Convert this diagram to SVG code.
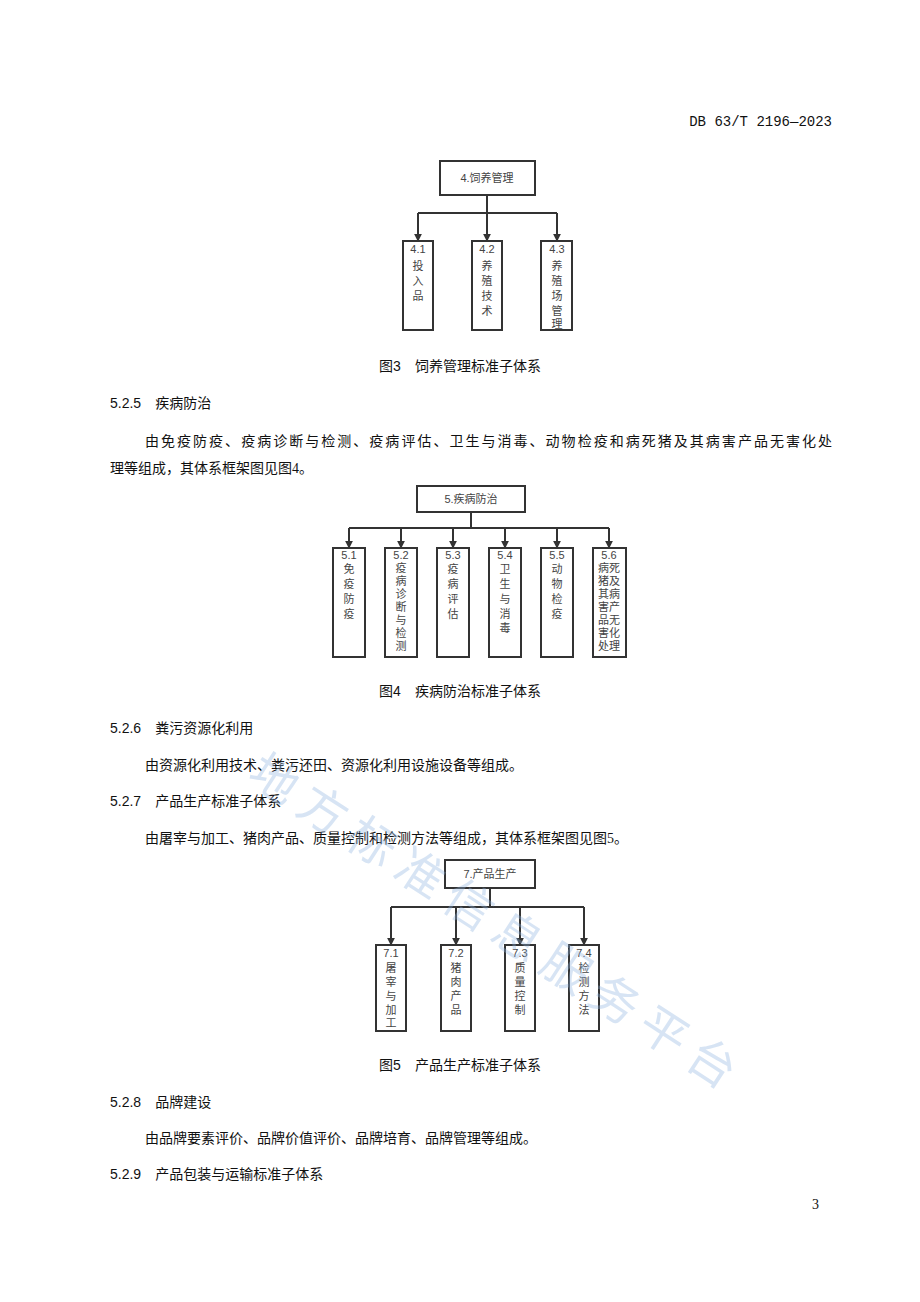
<svg xmlns="http://www.w3.org/2000/svg" width="920" height="1302" viewBox="0 0 920 1302">
<defs>
<marker id="ah" viewBox="0 0 10 10" refX="9" refY="5" markerWidth="4" markerHeight="4" orient="auto"><path d="M0,0L10,5L0,10z" fill="#333"/></marker>
<style>
.t{font-family:"Liberation Serif","Noto Sans CJK SC",serif;font-size:14px;fill:#111}
.h{font-family:"Liberation Sans","Noto Sans CJK SC",sans-serif;font-size:14px;fill:#111}
.m{font-family:"Liberation Mono","Noto Sans CJK SC",monospace;font-size:14px;fill:#111}
.b{fill:#fff;stroke:#333;stroke-width:2}
.n{font-family:"Liberation Sans","Noto Sans CJK SC",sans-serif;font-size:11px;fill:#444;text-anchor:middle}
.c{fill:none;stroke:#333;stroke-width:2}
.c2{fill:none;stroke:#333;stroke-width:2;marker-end:url(#ah)}
.wm{font-family:"Noto Sans CJK SC",sans-serif;font-size:48px;fill:#8fb4e0;opacity:0.35}
</style>
</defs>
<rect width="920" height="1302" fill="#fff"/>
<text class="m" x="832" y="126" text-anchor="end">DB 63/T 2196—2023</text>

<g id="connectors">
<path class="c" d="M487,195V213M418,213H557"/>
<path class="c2" d="M418,213V241"/><path class="c2" d="M487,213V241"/><path class="c2" d="M557,213V241"/>
<path class="c" d="M471,512V528M349,528H609"/>
<path class="c2" d="M349,528V548"/><path class="c2" d="M401,528V548"/><path class="c2" d="M453,528V548"/><path class="c2" d="M505,528V548"/><path class="c2" d="M557,528V548"/><path class="c2" d="M609,528V548"/>
<path class="c" d="M490,888V907M391,907H584"/>
<path class="c2" d="M391,907V945"/><path class="c2" d="M456,907V945"/><path class="c2" d="M520,907V945"/><path class="c2" d="M584,907V945"/>
</g>

<g id="n4"><rect class="b" x="440" y="161" width="95" height="34"/><text class="n" x="487" y="182">4.饲养管理</text></g>
<g id="n41"><rect class="b" x="403" y="241" width="30" height="89"/><text class="n" x="418" y="253">4.1</text><text class="n" x="418" y="270">投</text><text class="n" x="418" y="285">入</text><text class="n" x="418" y="300">品</text></g>
<g id="n42"><rect class="b" x="472" y="241" width="30" height="89"/><text class="n" x="487" y="253">4.2</text><text class="n" x="487" y="270">养</text><text class="n" x="487" y="285">殖</text><text class="n" x="487" y="300">技</text><text class="n" x="487" y="315">术</text></g>
<g id="n43"><rect class="b" x="541" y="241" width="31" height="89"/><text class="n" x="557" y="253">4.3</text><text class="n" x="557" y="270">养</text><text class="n" x="557" y="285">殖</text><text class="n" x="557" y="300">场</text><text class="n" x="557" y="315">管</text><text class="n" x="557" y="328">理</text></g>
<text class="h" x="460" y="371" text-anchor="middle">图3　饲养管理标准子体系</text>

<text class="h" x="110" y="408">5.2.5　疾病防治</text>
<text class="t" x="145" y="446" textLength="687">由免疫防疫、疫病诊断与检测、疫病评估、卫生与消毒、动物检疫和病死猪及其病害产品无害化处</text>
<text class="t" x="110" y="473">理等组成，其体系框架图见图4。</text>

<g id="n5"><rect class="b" x="417" y="486" width="108" height="26"/><text class="n" x="471" y="503" font-size="10">5.疾病防治</text></g>
<g id="n51"><rect class="b" x="333" y="548" width="32" height="109"/><text class="n" x="349" y="559">5.1</text><text class="n" x="349" y="573">免</text><text class="n" x="349" y="588">疫</text><text class="n" x="349" y="603">防</text><text class="n" x="349" y="618">疫</text></g>
<g id="n52"><rect class="b" x="385" y="548" width="32" height="109"/><text class="n" x="401" y="559">5.2</text><text class="n" x="401" y="572">疫</text><text class="n" x="401" y="585">病</text><text class="n" x="401" y="598">诊</text><text class="n" x="401" y="611">断</text><text class="n" x="401" y="624">与</text><text class="n" x="401" y="637">检</text><text class="n" x="401" y="650">测</text></g>
<g id="n53"><rect class="b" x="437" y="548" width="32" height="109"/><text class="n" x="453" y="559">5.3</text><text class="n" x="453" y="573">疫</text><text class="n" x="453" y="588">病</text><text class="n" x="453" y="603">评</text><text class="n" x="453" y="618">估</text></g>
<g id="n54"><rect class="b" x="489" y="548" width="32" height="109"/><text class="n" x="505" y="559">5.4</text><text class="n" x="505" y="573">卫</text><text class="n" x="505" y="588">生</text><text class="n" x="505" y="603">与</text><text class="n" x="505" y="618">消</text><text class="n" x="505" y="632">毒</text></g>
<g id="n55"><rect class="b" x="541" y="548" width="32" height="109"/><text class="n" x="557" y="559">5.5</text><text class="n" x="557" y="573">动</text><text class="n" x="557" y="588">物</text><text class="n" x="557" y="603">检</text><text class="n" x="557" y="618">疫</text></g>
<g id="n56"><rect class="b" x="593" y="548" width="33" height="109"/><text class="n" x="609" y="559">5.6</text><text class="n" x="609" y="572">病死</text><text class="n" x="609" y="585">猪及</text><text class="n" x="609" y="598">其病</text><text class="n" x="609" y="611">害产</text><text class="n" x="609" y="624">品无</text><text class="n" x="609" y="637">害化</text><text class="n" x="609" y="650">处理</text></g>
<text class="h" x="460" y="696" text-anchor="middle">图4　疾病防治标准子体系</text>

<text class="h" x="110" y="733">5.2.6　粪污资源化利用</text>
<text class="t" x="145" y="770">由资源化利用技术、粪污还田、资源化利用设施设备等组成。</text>
<text class="h" x="110" y="806">5.2.7　产品生产标准子体系</text>
<text class="t" x="145" y="843">由屠宰与加工、猪肉产品、质量控制和检测方法等组成，其体系框架图见图5。</text>

<g id="n7"><rect class="b" x="445" y="860" width="90" height="28"/><text class="n" x="490" y="878">7.产品生产</text></g>
<g id="n71"><rect class="b" x="376" y="945" width="30" height="86"/><text class="n" x="391" y="957">7.1</text><text class="n" x="391" y="972">屠</text><text class="n" x="391" y="986">宰</text><text class="n" x="391" y="1000">与</text><text class="n" x="391" y="1014">加</text><text class="n" x="391" y="1027">工</text></g>
<g id="n72"><rect class="b" x="441" y="945" width="30" height="86"/><text class="n" x="456" y="957">7.2</text><text class="n" x="456" y="972">猪</text><text class="n" x="456" y="986">肉</text><text class="n" x="456" y="1000">产</text><text class="n" x="456" y="1014">品</text></g>
<g id="n73"><rect class="b" x="505" y="945" width="30" height="86"/><text class="n" x="520" y="957">7.3</text><text class="n" x="520" y="972">质</text><text class="n" x="520" y="986">量</text><text class="n" x="520" y="1000">控</text><text class="n" x="520" y="1014">制</text></g>
<g id="n74"><rect class="b" x="569" y="945" width="30" height="86"/><text class="n" x="584" y="957">7.4</text><text class="n" x="584" y="972">检</text><text class="n" x="584" y="986">测</text><text class="n" x="584" y="1000">方</text><text class="n" x="584" y="1014">法</text></g>
<text class="h" x="460" y="1070" text-anchor="middle">图5　产品生产标准子体系</text>

<text class="h" x="110" y="1107">5.2.8　品牌建设</text>
<text class="t" x="145" y="1143">由品牌要素评价、品牌价值评价、品牌培育、品牌管理等组成。</text>
<text class="h" x="110" y="1179">5.2.9　产品包装与运输标准子体系</text>
<text class="t" x="812" y="1209">3</text>

<text class="wm" x="245" y="780" transform="rotate(33 245 780)" letter-spacing="10">地方标准信息服务平台</text>
</svg>
